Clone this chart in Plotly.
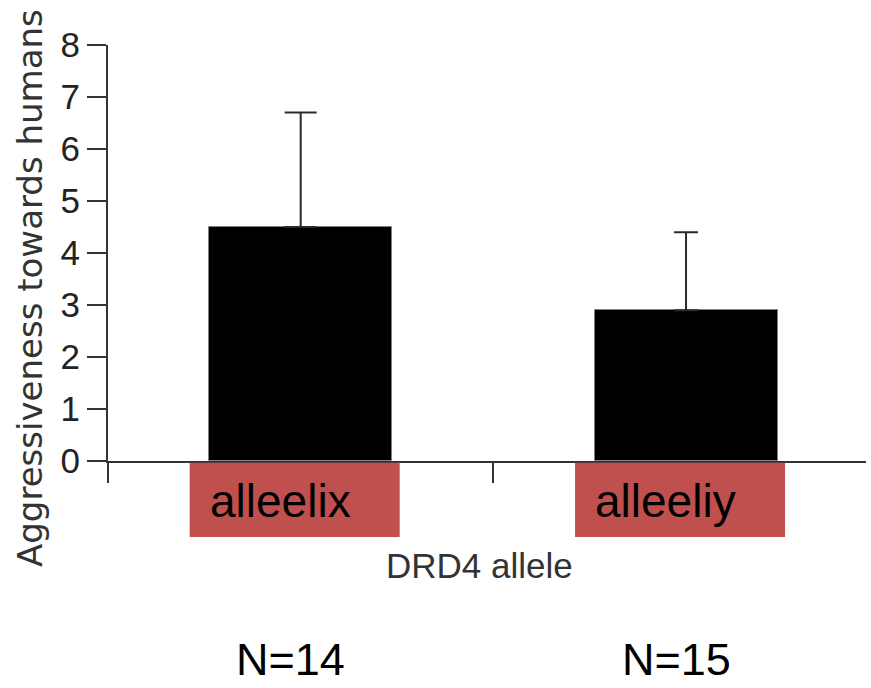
import plotly.graph_objects as go

# ---- data ----
categories = ["alleelix", "alleeliy"]
means = [4.5, 2.9]
errors = [2.2, 1.5]
n_labels = ["N=14", "N=15"]
y_ticks = [0, 1, 2, 3, 4, 5, 6, 7, 8]
x_title = "DRD4 allele"
y_title = "Aggressiveness towards humans"

W, H = 871, 688
ML, MR, MT, MB = 108, 5, 45, 227
XMIN, XMAX = -0.5, 1.467
px_per_x = (W - ML - MR) / (XMAX - XMIN)
plot_h = H - MT - MB

cap_half = [16, 12]
bar_w = 0.475

fig = go.Figure()
for i, (c, m, e) in enumerate(zip(categories, means, errors)):
    fig.add_trace(go.Bar(
        x=[i], y=[m], width=bar_w, name=c,
        marker=dict(color="#000000", line=dict(color="#808080", width=1)),
        error_y=dict(type="data", array=[e], symmetric=False, arrayminus=[0],
                     color="#2a2a2a", thickness=2, width=cap_half[i]),
        showlegend=False,
    ))

shapes = []
annotations = []
box_w = 210 / px_per_x
box_off = -6 / px_per_x
for i, c in enumerate(categories):
    x0 = i + box_off - box_w / 2
    shapes.append(dict(type="rect", xref="x", yref="paper",
                       x0=x0, x1=x0 + box_w, y0=-0.004, y1=-76 / plot_h,
                       fillcolor="#C0504D", line=dict(width=0), layer="above"))
    annotations.append(dict(text=c, xref="x", yref="paper",
                            x=x0 + 18 / px_per_x, y=-40 / plot_h,
                            xanchor="left", yanchor="middle", showarrow=False,
                            font=dict(family="Liberation Sans, Arial", size=46, color="#000000")))
    annotations.append(dict(text=n_labels[i], xref="x", yref="paper",
                            x=i - 10 / px_per_x, y=-(H - MT - 1 - plot_h) / plot_h,
                            xanchor="center", yanchor="bottom", showarrow=False,
                            font=dict(family="Liberation Sans, Arial", size=45, color="#000000")))

annotations.append(dict(text=x_title, xref="paper", yref="paper",
                        x=(479 - ML) / (W - ML - MR), y=-104 / plot_h,
                        xanchor="center", yanchor="middle", showarrow=False,
                        font=dict(family="Liberation Sans, Arial",
                                  size=35, color="#333333")))
annotations.append(dict(text=y_title, xref="paper", yref="paper",
                        x=(30 - ML) / (W - ML - MR), y=(461 - 288) / plot_h,
                        xanchor="center", yanchor="middle", showarrow=False, textangle=-90,
                        font=dict(family="DejaVu Sans", size=34, color="#333333")))

fig.update_layout(
    width=W, height=H, autosize=False,
    margin=dict(l=ML, r=MR, t=MT, b=MB, pad=0),
    plot_bgcolor="white", paper_bgcolor="white",
    shapes=shapes, annotations=annotations,
    bargap=0,
    xaxis=dict(range=[XMIN, XMAX], showgrid=False, zeroline=False,
               showline=True, linecolor="#333333", linewidth=2,
               tickmode="array", tickvals=[-0.5, 0.5], ticktext=["", ""],
               ticks="outside", ticklen=20, tickwidth=2, tickcolor="#333333"),
    yaxis=dict(range=[0, 8], showgrid=False, zeroline=False,
               showline=True, linecolor="#333333", linewidth=2,
               tickmode="array", tickvals=y_ticks, ticktext=[str(v) for v in y_ticks],
               ticks="outside", ticklen=19, tickwidth=2, tickcolor="#333333",
               ticklabelstandoff=0,
               tickfont=dict(family="Liberation Sans, Arial",
                             size=35, color="#222222")),
)

fig.write_html(
    "out.html",
    config={"displayModeBar": False},
    post_script="document.body.style.margin='0';document.body.style.padding='0';"
                "document.body.style.overflow='hidden';",
)
